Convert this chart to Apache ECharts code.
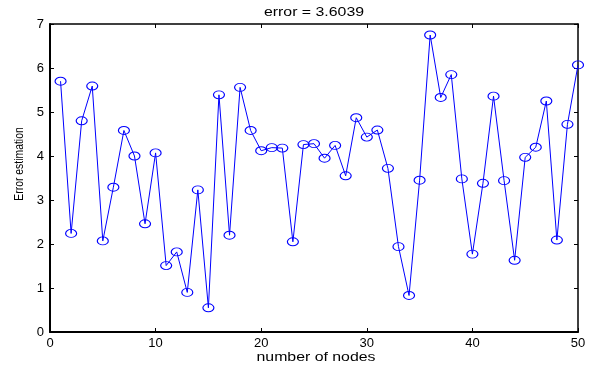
<!DOCTYPE html>
<html><head><meta charset="utf-8">
<script src="https://cdn.jsdelivr.net/npm/echarts@6/dist/echarts.min.js"></script>
<style>html,body{margin:0;padding:0;background:#fff}#c{width:604px;height:366px}</style>
</head><body><div id="c"></div>
<script>
const nodes = [1,2,3,4,5,6,7,8,9,10,11,12,13,14,15,16,17,18,19,20,21,22,23,24,25,26,27,28,29,30,31,32,33,34,35,36,37,38,39,40,41,42,43,44,45,46,47,48,49,50];
const errors = [5.70,2.24,4.80,5.59,2.07,3.29,4.58,4.00,2.46,4.07,
                1.51,1.82,0.90,3.23,0.55,5.39,2.20,5.56,4.58,4.12,
                4.19,4.18,2.05,4.26,4.28,3.95,4.24,3.55,4.87,4.43,
                4.59,3.72,1.94,0.83,3.45,6.75,5.33,5.85,3.48,1.77,
                3.38,5.36,3.44,1.63,3.97,4.20,5.25,2.09,4.72,6.07];
const titleText = 'error = 3.6039';
const xName = 'number of nodes';
const yName = 'Error estimation';

const font = 'Liberation Sans, Arial, Helvetica, sans-serif';
const chart = echarts.init(document.getElementById('c'), null, {renderer:'canvas'});
function axis(extra, w){
  return Object.assign({
    axisLine:{show:true, onZero:false, lineStyle:{color:'#000', width:w}},
    axisTick:{show:true, inside:true, length:4, lineStyle:{color:'#000', width:1}},
    splitLine:{show:false}
  }, extra);
}
const txt = {fontFamily:font, fontSize:13, color:'#000'};
chart.setOption({
  animation:false,
  backgroundColor:'#fff',
  grid:{left:50, right:26, top:24, bottom:34, show:false},
  xAxis:[
    axis({type:'value', min:0, max:50, interval:10, position:'bottom',
      axisLabel:Object.assign({margin:5}, txt)}, 2),
    axis({type:'value', min:0, max:50, interval:10, position:'top',
      axisLabel:{show:false}}, 1.5)
  ],
  yAxis:[
    axis({type:'value', min:0, max:7, interval:1, position:'left',
      axisLabel:Object.assign({margin:6}, txt)}, 2),
    axis({type:'value', min:0, max:7, interval:1, position:'right',
      axisLabel:{show:false}}, 1.5)
  ],
  graphic:[
    {type:'text', x:314, y:12, scaleX:1.22, silent:true,
      style:{text:titleText, font:'13px ' + font, fill:'#000', align:'center', verticalAlign:'middle'}},
    {type:'text', x:316, y:357, scaleX:1.22, silent:true,
      style:{text:xName, font:'13px ' + font, fill:'#000', align:'center', verticalAlign:'middle'}},
    {type:'text', x:19, y:164, rotation:Math.PI/2, scaleX:0.8, silent:true,
      style:{text:yName, font:'13px ' + font, fill:'#000', align:'center', verticalAlign:'middle'}}
  ],
  series:[{
    type:'line',
    data:nodes.map((n,i)=>[n, errors[i]]),
    symbol:'circle', symbolSize:[11,8],
    showAllSymbol:true,
    lineStyle:{color:'#0000ff', width:1},
    itemStyle:{color:'rgba(0,0,0,0)', borderColor:'#0000ff', borderWidth:1},
    emphasis:{disabled:true}
  }]
});
</script></body></html>
